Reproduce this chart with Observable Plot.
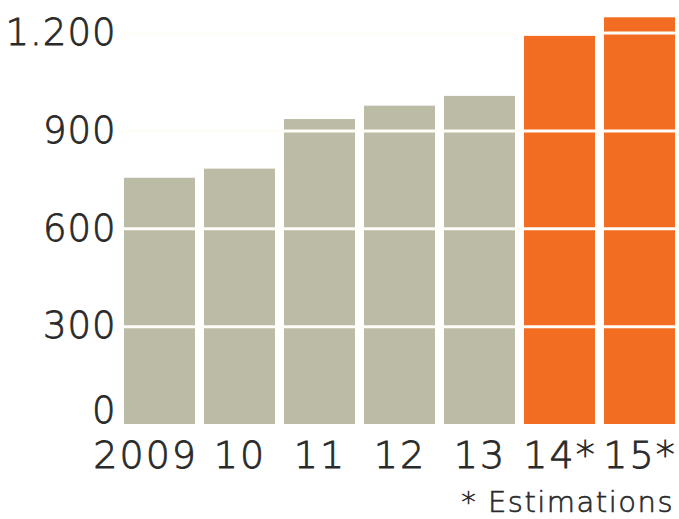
<!DOCTYPE html>
<html>
<head>
<meta charset="utf-8">
<script src="https://cdn.jsdelivr.net/npm/d3@7"></script>
<script src="https://cdn.jsdelivr.net/npm/@observablehq/plot@0.6"></script>
<style>
  body { margin: 0; background: #fff; }
  #chart { width: 679px; height: 480px; }
  #caption { width: 674px; text-align: right; font-family: "DejaVu Sans", sans-serif; font-weight: 200; font-size: 29px; letter-spacing: 1.5px; color: #2a2a2a; -webkit-text-stroke: 0.6px #2a2a2a; margin-top: 5px; line-height: 34px; }
  #chart svg g.ylab text { letter-spacing: 1px; stroke: #2a2a2a; stroke-width: 0.8px; }
  #chart svg g.xlab text { letter-spacing: 2px; stroke: #2a2a2a; stroke-width: 0.8px; }
</style>
</head>
<body>
<div id="chart"></div>
<div id="caption">* Estimations</div>
<script>
const years = ["2009", "10", "11", "12", "13", "14*", "15*"];
const values = [755, 783, 935, 976, 1006, 1190, 1247];
const estimated = [false, false, false, false, false, true, true];
const yTicks = [300, 600, 900, 1200];
const yTickLabels = ["300", "600", "900", "1.200"];

const data = years.map((y, i) => ({year: y, value: values[i], est: estimated[i]}));

const font = "'DejaVu Sans', sans-serif";

const plot = Plot.plot({
  width: 679,
  height: 480,
  marginLeft: 121,
  marginRight: 0,
  marginTop: 0,
  marginBottom: 56,
  style: {fontFamily: font, fontWeight: 200, color: "#2a2a2a", background: "#fff"},
  x: {domain: years, paddingInner: 0.111, paddingOuter: 0, axis: null},
  y: {domain: [0, 1300], axis: null},
  marks: [
    Plot.barY(data, {x: "year", y: "value", fill: d => d.est ? "#f26c22" : "#bcbba5"}),
    Plot.ruleY(yTicks, {stroke: "#fffdf7", strokeWidth: 3}),
    Plot.axisY(yTicks, {tickSize: 0, tickPadding: 5, fontSize: 37, tickFormat: d => yTickLabels[yTicks.indexOf(d)], label: null, className: "ylab"}),
    Plot.axisY([0], {tickSize: 0, tickPadding: 5, fontSize: 37, dy: -13, tickFormat: d => "0", label: null, className: "ylab"}),
    Plot.axisX(years.slice(1), {tickSize: 0, tickPadding: 17, fontSize: 38, label: null, className: "xlab"}),
    Plot.axisX(years.slice(0, 1), {tickSize: 0, tickPadding: 17, fontSize: 38, textAnchor: "end", dx: 38, label: null, className: "xlab"})
  ]
});
document.getElementById("chart").appendChild(plot);
</script>
</body>
</html>
